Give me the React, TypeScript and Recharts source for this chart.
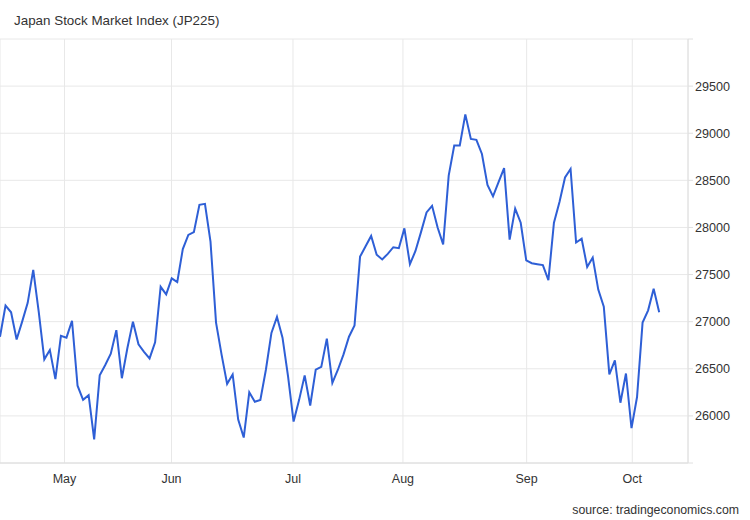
import { LineChart, Line, XAxis, YAxis, CartesianGrid } from 'recharts';

// JP225 daily closes, one per trading day (mid-Apr to early Oct)
const values = [
  26840, 27170, 27100, 26810, 27000, 27200, 27550, 27100, 26600, 26700,
  26390, 26850, 26830, 27010, 26320, 26170, 26220, 25750, 26430, 26540,
  26660, 26910, 26400, 26720, 27000, 26760, 26680, 26610, 26780, 27370,
  27290, 27460, 27420, 27770, 27920, 27950, 28240, 28250, 27850, 26990,
  26650, 26340, 26440, 25960, 25770, 26250, 26150, 26170, 26490, 26880,
  27050, 26830, 26420, 25940, 26170, 26430, 26110, 26490, 26520, 26820,
  26350, 26490, 26650, 26840, 26960, 27690, 27800, 27910, 27710, 27660,
  27720, 27790, 27780, 27990, 27610, 27750, 27950, 28160, 28230, 28000,
  27820, 28550, 28870, 28870, 29200, 28940, 28930, 28780, 28450, 28330,
  28480, 28630, 27870, 28200, 28050, 27650, 27620, 27610, 27600, 27440,
  28050, 28270, 28530, 28620, 27840, 27880, 27580, 27680, 27340, 27160,
  26440, 26590, 26140, 26450, 25870, 26200, 26990, 27120, 27350, 27100,
];

// month boundaries, in trading-day index units
const monthTicks = [11.64, 30.96, 52.89, 72.74, 95.07, 114.14];
const monthLabels = ['May', 'Jun', 'Jul', 'Aug', 'Sep', 'Oct'];

const yTicks = [25500, 26000, 26500, 27000, 27500, 28000, 28500, 29000, 29500, 30000];

const data = values.map((v, i) => ({ i, v }));

export default function App() {
  return (
    <div
      style={{
        position: 'absolute',
        left: 0,
        top: 0,
        width: 750,
        height: 520,
        background: '#fff',
        fontFamily: '"Liberation Sans", Arial, sans-serif',
      }}
    >
      <div
        style={{
          position: 'absolute',
          left: 14,
          top: 14,
          fontSize: 13.4,
          lineHeight: 1,
          color: '#333',
        }}
      >
        Japan Stock Market Index (JP225)
      </div>
      <LineChart
        width={750}
        height={520}
        data={data}
        margin={{ top: 39, right: 0, bottom: 27, left: 0 }}
      >
        <CartesianGrid stroke="#e8e8e8" />
        <XAxis
          dataKey="i"
          type="number"
          domain={[0, 124.2]}
          ticks={monthTicks}
          interval={0}
          height={30}
          tickSize={6}
          tickMargin={5}
          tickLine={false}
          axisLine={{ stroke: '#dcdcdc' }}
          tick={{ fontSize: 12.5, fill: '#333' }}
          tickFormatter={(t: number) => monthLabels[monthTicks.indexOf(t)] ?? ''}
        />
        <YAxis
          orientation="right"
          type="number"
          domain={[25500, 30000]}
          ticks={yTicks}
          interval={0}
          width={62}
          tickSize={5}
          tickMargin={2}
          tickLine={{ stroke: '#e0e0e0' }}
          axisLine={{ stroke: '#e0e0e0' }}
          tick={{ fontSize: 12.6, fill: '#333' }}
          tickFormatter={(t: number) => (t === 25500 || t === 30000 ? '' : String(t))}
        />
        <Line
          type="linear"
          dataKey="v"
          stroke="#2e5fd6"
          strokeWidth={2}
          dot={false}
          isAnimationActive={false}
        />
      </LineChart>
      <div
        style={{
          position: 'absolute',
          right: 11,
          top: 504,
          fontSize: 12.3,
          lineHeight: 1,
          color: '#333',
        }}
      >
        source: tradingeconomics.com
      </div>
    </div>
  );
}
